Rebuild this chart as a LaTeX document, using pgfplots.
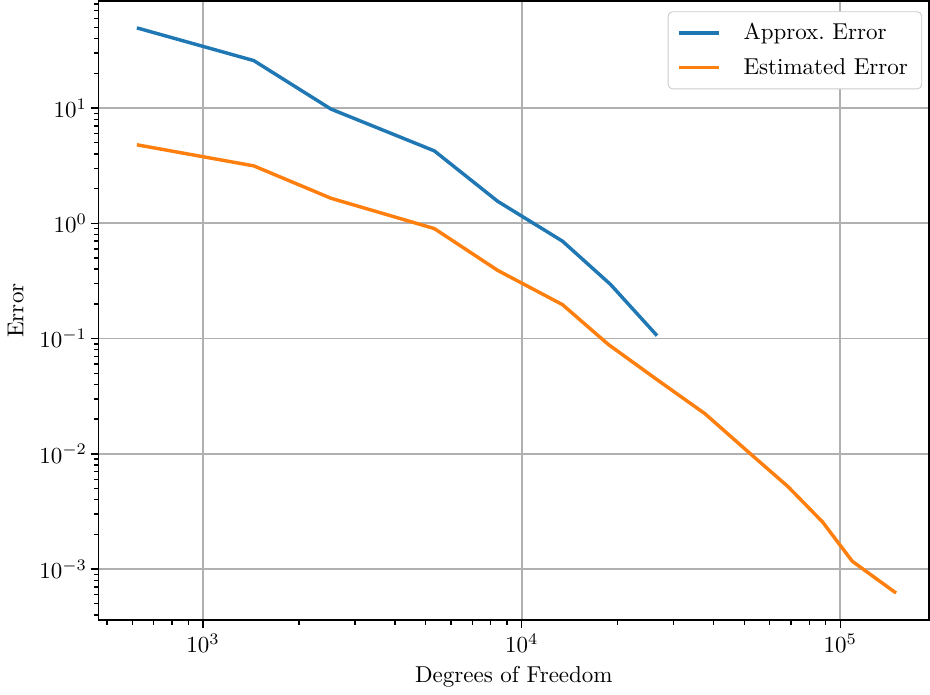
\documentclass[border=0pt]{standalone}
\usepackage{pgfplots}
\pgfplotsset{compat=1.18}
\definecolor{mplblue}{HTML}{1F77B4}
\definecolor{mplorange}{HTML}{FF7F0E}
\definecolor{gridgray}{HTML}{B0B0B0}

\begin{document}
\begin{tikzpicture}
\begin{axis}[
    xmode=log, ymode=log,
    scale only axis,
    width=127mm, height=94.7mm,
    xmin=470, xmax=1.9e5,
    ymin=3.6e-4, ymax=85,
    xlabel={Degrees of Freedom},
    ylabel={Error},
    tick align=outside,
    tick pos=left,
    major tick length=3.5pt,
    minor tick length=2pt,
    grid=major,
    major grid style={gridgray, line width=0.8pt},
    axis line style={line width=0.8pt},
    every tick/.style={black, line width=0.6pt},
    yticklabel style={xshift=2pt},
    xticklabel style={yshift=1pt},
    xlabel style={yshift=1pt},
    legend cell align=left,
    legend style={at={(axis description cs:1,1)}, anchor=north east,
        xshift=-3pt, yshift=-4.5pt,
        draw=gray!40, rounded corners=2pt, row sep=2.5pt,
        inner xsep=4pt, inner ysep=3pt,
        /tikz/every odd column/.append style={column sep=2.8mm}},
    legend image code/.code={\draw[#1] (0mm,0mm) -- (6.1mm,0mm);},
]
% Approx. Error
\addplot[mplblue, line width=1.5pt] coordinates {
    (620,49.6) (1443,25.8) (2520,9.8) (5320,4.25) (8414,1.55)
    (13430,0.70) (19000,0.295) (26600,0.106)
};
\addlegendentry{Approx.\ Error}

% Estimated Error
\addplot[mplorange, line width=1.5pt] coordinates {
    (620,4.8) (1443,3.15) (2520,1.65) (5320,0.90) (8414,0.39)
    (13430,0.197) (18700,0.089) (26600,0.044) (37600,0.0223)
    (50800,0.0107) (68500,0.0052) (88000,0.00256) (109000,0.00117)
    (149600,0.00062)
};
\addlegendentry{Estimated Error}
\end{axis}
\end{tikzpicture}
\end{document}
